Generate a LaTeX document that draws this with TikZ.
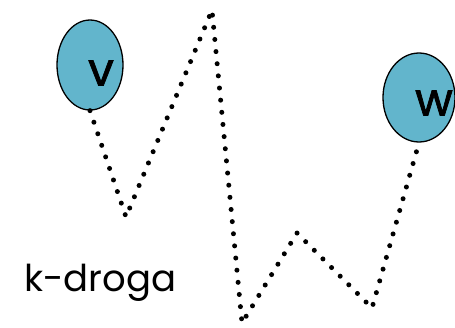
\documentclass[tikz,border=0pt]{standalone}
\usepackage{fontspec}
\setmainfont{Poppins}
\newfontfamily\lblfont{Poppins}[FakeBold=1.6]
\usetikzlibrary{shapes.geometric}
\definecolor{blobblue}{HTML}{62B5CC}
\tikzset{
  blob/.style={ellipse, draw=black, line width=1.3pt, fill=blobblue, inner sep=0pt},
  lbl/.style={font=\lblfont\fontsize{46}{46}\selectfont, inner sep=0pt},
  dotline/.style={line width=5pt, line cap=round, dash pattern=on 0pt off 12.2pt, line join=round}
}
\begin{document}
\begin{tikzpicture}[x=1pt,y=-1pt]
\useasboundingbox (0,0) rectangle (455,327);
\node[blob, minimum width=66pt, minimum height=90pt] (v) at (90,65) {};
\node[blob, minimum width=72pt, minimum height=89pt] (w) at (419,97.5) {};
\node[lbl, anchor=center] (vl) at (101,73) {v};
\node[lbl, anchor=center] (wl) at (434,103) {w};
\coordinate (p1) at (126,217);
\coordinate (p2) at (212,10);
\coordinate (p3) at (242,323);
\coordinate (p4) at (297,233);
\coordinate (p5) at (372,308);
\draw[dotline] (v.south) -- (p1) -- (p2) -- (p3) -- (p4) -- (p5) -- (w.south);
\node[font=\fontsize{37}{37}\selectfont, anchor=base west, inner sep=0pt] (k) at (24,291) {k-droga};
\end{tikzpicture}
\end{document}
